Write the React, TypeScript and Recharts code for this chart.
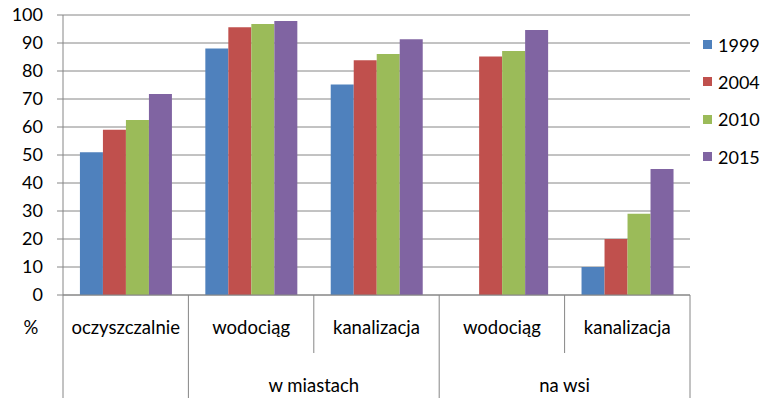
import React from 'react'
import { BarChart, Bar, XAxis, YAxis, CartesianGrid, Legend } from 'recharts'

const categories = ['oczyszczalnie', 'wodociąg', 'kanalizacja', 'wodociąg', 'kanalizacja']
const groupLabels = ['', 'w miastach', 'na wsi']
const groupSpans = [1, 2, 2]
const years = ['1999', '2004', '2010', '2015']
const values1999 = [51, 88, 75.2, null, 10]
const values2004 = [59, 95.6, 83.8, 85.2, 20]
const values2010 = [62.5, 96.8, 86.1, 87.1, 29]
const values2015 = [71.8, 97.9, 91.3, 94.6, 45]
const yTicks = [0, 10, 20, 30, 40, 50, 60, 70, 80, 90, 100]

const colors = ['#4F81BD', '#C0504D', '#9BBB59', '#8064A2']
const series = [values1999, values2004, values2010, values2015]

const data = categories.map((name, i) => {
  const row: Record<string, string | number | null> = { key: `c${i}`, name }
  years.forEach((y, s) => {
    row[y] = series[s][i]
  })
  return row
})

const W = 766
const H = 398
const MARGIN = { top: 15, right: 76, bottom: 0, left: 0 }
const Y_W = 63
const X_H = 103
const BAND = (W - MARGIN.left - MARGIN.right - Y_W) / categories.length
const FONT = 'Lato, "Open Sans", sans-serif'
const LINE = '#868686'
const FS = 18.5

// group starts by category index
const groupStart: Record<number, number> = {}
let acc = 0
groupSpans.forEach((span, g) => {
  groupStart[acc] = g
  acc += span
})

function CategoryTick(props: any) {
  const { x, y, payload } = props
  const i = payload.index
  const left = x - BAND / 2
  const isGroupStart = groupStart[i] !== undefined
  const parts: React.ReactNode[] = []
  parts.push(
    <line key="sep" x1={left} y1={y} x2={left} y2={y + (isGroupStart ? X_H : 58)} stroke={LINE} strokeWidth={1} />
  )
  if (i === categories.length - 1) {
    parts.push(<line key="end" x1={x + BAND / 2} y1={y} x2={x + BAND / 2} y2={y + X_H} stroke={LINE} strokeWidth={1} />)
  }
  parts.push(
    <text key="lbl" x={x} y={y + 39} textAnchor="middle" fontSize={FS} fill="#000" fontFamily={FONT}>
      {payload.value}
    </text>
  )
  if (i === 0) {
    parts.push(
      <text key="pct" x={left - 32} y={y + 39} textAnchor="middle" fontSize={FS} fill="#000" fontFamily={FONT}>
        %
      </text>
    )
  }
  // group label centred across its span
  let start = 0
  groupSpans.forEach((span, g) => {
    if (groupLabels[g] && span > 1 && i === start + span / 2) {
      parts.push(
        <text key={`g${g}`} x={left} y={y + 97} textAnchor="middle" fontSize={FS} fill="#000" fontFamily={FONT}>
          {groupLabels[g]}
        </text>
      )
    }
    start += span
  })
  return <g>{parts}</g>
}

function LegendContent(props: any) {
  const { payload } = props
  return (
    <div style={{ fontFamily: FONT, fontSize: 18, color: '#000' }}>
      {payload.map((p: any) => (
        <div key={p.value} style={{ height: 37.3, display: 'flex', alignItems: 'center' }}>
          <span style={{ width: 9, height: 9, background: p.color, display: 'inline-block', marginRight: 6 }} />
          <span>{p.value}</span>
        </div>
      ))}
    </div>
  )
}

export default function App() {
  return (
    <div style={{ position: 'absolute', left: 0, top: 0, width: W, height: H, background: '#fff' }}>
      <BarChart width={W} height={H} data={data} margin={MARGIN} barCategoryGap="13.5%" barGap={0}>
        <CartesianGrid vertical={false} stroke={LINE} strokeWidth={1} />
        <XAxis
          dataKey="name"
          interval={0}
          height={X_H}
          tickLine={false}
          axisLine={{ stroke: LINE }}
          tickSize={0}
          tickMargin={0}
          tick={<CategoryTick />}
        />
        <YAxis
          domain={[0, 100]}
          ticks={yTicks}
          width={Y_W}
          tickSize={6}
          tickMargin={14}
          tickLine={{ stroke: LINE }}
          axisLine={{ stroke: LINE }}
          tick={{ fontSize: 18, fill: '#000', fontFamily: FONT }}
        />
        <Legend
          layout="vertical"
          align="center"
          verticalAlign="middle"
          content={<LegendContent />}
          wrapperStyle={{ left: 703, top: 26, width: 63 }}
        />
        {years.map((y, s) => (
          <Bar key={y} dataKey={y} fill={colors[s]} isAnimationActive={false} />
        ))}
      </BarChart>
    </div>
  )
}
